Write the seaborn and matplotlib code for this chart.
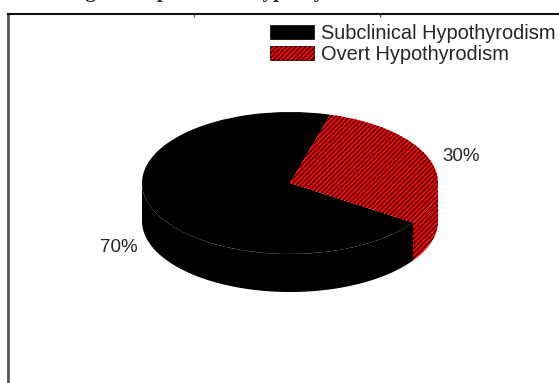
import numpy as np
import matplotlib
matplotlib.use("Agg")
import matplotlib.pyplot as plt
import seaborn as sns
from matplotlib.patches import Patch
from matplotlib.ticker import MultipleLocator

# Data
categories = ["Subclinical Hypothyrodism", "Overt Hypothyrodism"]
percent = [70, 30]
pct_labels = ["70%", "30%"]
colors = ["#000000", "#ff0000"]
hatches = [None, "///////"]
title = "Distribution of patients according to the pattern of hypothyroidism"

sns.set_style("white")
plt.rcParams["font.family"] = ["Liberation Sans", "DejaVu Sans"]
plt.rcParams["hatch.linewidth"] = 0.8

W, H = 559, 383
fig = plt.figure(figsize=(W / 100, H / 100), dpi=100)

# outer frame (left + top border with small ticks)
fr = fig.add_axes([8 / W, -0.2, 1.2, (H - 14) / H + 0.2])
fr.set_xlim(0, 1.2 * W)
fr.set_ylim((H - 14) + 0.2 * H, 0)
fr.xaxis.set_major_locator(MultipleLocator(186))
fr.yaxis.set_major_locator(MultipleLocator(37.6))
fr.xaxis.tick_top()
fr.tick_params(direction="in", length=2, width=1, colors="#555555",
               labelleft=False, labeltop=False, labelbottom=False)
for s in ["right", "bottom"]:
    fr.spines[s].set_visible(False)
fr.spines["left"].set_color("#555555")
fr.spines["left"].set_linewidth(2)
fr.spines["top"].set_color("#111111")
fr.spines["top"].set_linewidth(1.5)
fr.set_facecolor("none")

# pie axes: unit circle squashed into an ellipse
ax = fig.add_axes([0, 0, 1, 1])
cx, cy, rx, ry = 290, 183, 148, 71
depth = 38 / ry

wedges, texts = ax.pie(percent, colors=colors, startangle=74.2, counterclock=True,
                       labels=pct_labels, labeldistance=1.1,
                       textprops=dict(fontsize=13.5),
                       wedgeprops=dict(linewidth=0, edgecolor="black"))
for w, h in zip(wedges, hatches):
    w.set_zorder(3)
    if h:
        w.set_hatch(h)

# side walls of the 3D pie
for w, c, h in zip(wedges, colors, hatches):
    t1 = w.theta1 % 360
    t2 = t1 + (w.theta2 - w.theta1)
    for lo, hi in [(180, 360), (540, 720)]:
        a, b = max(t1, lo), min(t2, hi)
        if b <= a:
            continue
        t = np.radians(np.linspace(a, b, 100))
        xs = np.concatenate([np.cos(t), np.cos(t[::-1])])
        ys = np.concatenate([np.sin(t), np.sin(t[::-1]) - depth])
        ax.fill(xs, ys, facecolor=c, edgecolor="black", linewidth=0,
                hatch=h, zorder=2)

for t in texts:
    x, y = t.get_position()
    if y < 0:
        t.set_position((x, y - depth))

ax.set_aspect("auto")
ax.set_xlim(-cx / rx, (W - cx) / rx)
ax.set_ylim(-(H - cy) / ry, cy / ry)
ax.axis("off")

handles = [Patch(facecolor=c, edgecolor="black", hatch=h, linewidth=0.5)
           for c, h in zip(colors, hatches)]
ax.legend(handles, categories, loc="upper left", bbox_to_anchor=(270 / W, 1 - 24 / H),
          bbox_transform=fig.transFigure, frameon=False, fontsize=14.4,
          handlelength=2.2, handleheight=0.75, handletextpad=0.35,
          labelspacing=0.1, borderpad=0, borderaxespad=0)

# title is clipped by the top of the image, only descenders show
fig.text(-205 / W, 1 + 2.5 / H, title, family=["Liberation Serif", "DejaVu Serif"],
         fontweight="bold", fontsize=15, ha="left", va="baseline")

fig.savefig("out.png", dpi=100)
